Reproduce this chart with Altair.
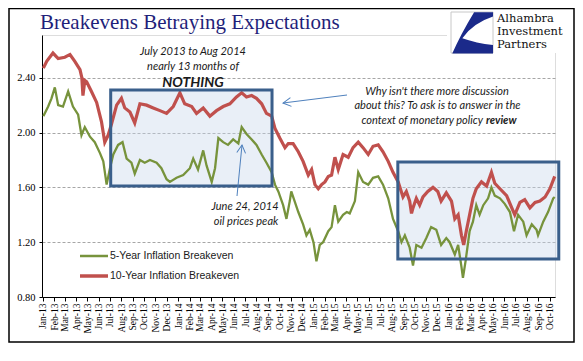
import altair as alt
import pandas as pd

# ---------------- data ----------------
red_dates = [
    "2013-01-02", "2013-01-11", "2013-01-28", "2013-02-11", "2013-03-01", "2013-03-15",
    "2013-03-28", "2013-04-11", "2013-04-16", "2013-04-19", "2013-04-24", "2013-04-29",
    "2013-05-12", "2013-05-26", "2013-06-08", "2013-06-17", "2013-06-26", "2013-07-05",
    "2013-07-19", "2013-08-01", "2013-08-10", "2013-08-24", "2013-09-06", "2013-09-20",
    "2013-10-08", "2013-10-26", "2013-11-13", "2013-12-01", "2013-12-19", "2014-01-06",
    "2014-01-19", "2014-02-07", "2014-02-20", "2014-03-10", "2014-03-28", "2014-04-15",
    "2014-05-03", "2014-05-21", "2014-06-08", "2014-06-22", "2014-07-05", "2014-07-19",
    "2014-08-01", "2014-08-15", "2014-08-28", "2014-09-11", "2014-09-20", "2014-10-03",
    "2014-10-17", "2014-10-26", "2014-11-08", "2014-11-22", "2014-12-05", "2014-12-19",
    "2014-12-28", "2015-01-06", "2015-01-15", "2015-01-24", "2015-02-02", "2015-02-11",
    "2015-02-20", "2015-03-01", "2015-03-10", "2015-03-23", "2015-04-06", "2015-04-19",
    "2015-05-03", "2015-05-16", "2015-05-30", "2015-06-12", "2015-06-26", "2015-07-09",
    "2015-07-23", "2015-08-05", "2015-08-19", "2015-09-01", "2015-09-10", "2015-09-19",
    "2015-09-24", "2015-09-28", "2015-10-07", "2015-10-16", "2015-10-25", "2015-11-07",
    "2015-11-21", "2015-12-04", "2015-12-13", "2015-12-27", "2016-01-10", "2016-01-19",
    "2016-01-28", "2016-02-06", "2016-02-12", "2016-02-19", "2016-02-28", "2016-03-08",
    "2016-03-17", "2016-03-31", "2016-04-14", "2016-04-27", "2016-05-06", "2016-05-20",
    "2016-06-07", "2016-06-21", "2016-06-29", "2016-07-13", "2016-07-26", "2016-08-09",
    "2016-08-23", "2016-09-05", "2016-09-19", "2016-10-02", "2016-10-15",
]
red_vals = [
    2.47, 2.52, 2.58, 2.54, 2.55, 2.57,
    2.52, 2.46, 2.40, 2.27, 2.38, 2.37,
    2.30, 2.22, 2.08, 1.93, 1.98, 2.06,
    2.20, 2.25, 2.18, 2.15, 2.07, 2.21,
    2.20, 2.18, 2.16, 2.14, 2.19, 2.29,
    2.21, 2.19, 2.14, 2.18, 2.12, 2.16,
    2.19, 2.21, 2.26, 2.29, 2.26, 2.27,
    2.25, 2.21, 2.14, 2.12, 2.03, 1.96,
    1.89, 1.92, 1.92, 1.86, 1.79, 1.69,
    1.73, 1.62, 1.59, 1.62, 1.64, 1.68,
    1.69, 1.82, 1.73, 1.84, 1.82, 1.89,
    1.93, 1.89, 1.84, 1.90, 1.91, 1.86,
    1.79, 1.71, 1.64, 1.53, 1.57, 1.50,
    1.41, 1.45, 1.52, 1.47, 1.53, 1.57,
    1.60, 1.57, 1.50, 1.56, 1.50, 1.37,
    1.40, 1.25, 1.18, 1.28, 1.40, 1.52,
    1.59, 1.64, 1.61, 1.71, 1.63, 1.59,
    1.54, 1.45, 1.40, 1.49, 1.51, 1.45,
    1.49, 1.50, 1.53, 1.59, 1.68,
]

green_dates = [
    "2013-01-02", "2013-01-15", "2013-01-24", "2013-02-02", "2013-02-11", "2013-02-24",
    "2013-03-10", "2013-03-23", "2013-04-06", "2013-04-15", "2013-04-24", "2013-05-08",
    "2013-05-21", "2013-06-04", "2013-06-13", "2013-06-22", "2013-07-01", "2013-07-10",
    "2013-07-23", "2013-08-04", "2013-08-15", "2013-08-28", "2013-09-06", "2013-09-20",
    "2013-10-03", "2013-10-17", "2013-11-04", "2013-11-17", "2013-12-01", "2013-12-10",
    "2013-12-28", "2014-01-15", "2014-02-02", "2014-02-11", "2014-02-24", "2014-03-10",
    "2014-03-19", "2014-04-02", "2014-04-11", "2014-04-20", "2014-05-03", "2014-05-16",
    "2014-05-30", "2014-06-13", "2014-06-22", "2014-07-05", "2014-07-19", "2014-08-01",
    "2014-08-15", "2014-08-28", "2014-09-11", "2014-09-20", "2014-09-29", "2014-10-12",
    "2014-10-21", "2014-10-30", "2014-11-03", "2014-11-12", "2014-11-22", "2014-12-05",
    "2014-12-14", "2014-12-23", "2015-01-02", "2015-01-10", "2015-01-19", "2015-01-28",
    "2015-02-11", "2015-02-20", "2015-03-01", "2015-03-10", "2015-03-23", "2015-04-02",
    "2015-04-10", "2015-04-24", "2015-05-03", "2015-05-16", "2015-05-30", "2015-06-12",
    "2015-06-26", "2015-07-09", "2015-07-23", "2015-08-05", "2015-08-19", "2015-08-28",
    "2015-09-06", "2015-09-19", "2015-09-28", "2015-10-07", "2015-10-21", "2015-11-03",
    "2015-11-16", "2015-11-30", "2015-12-13", "2015-12-27", "2016-01-05", "2016-01-19",
    "2016-01-28", "2016-02-06", "2016-02-10", "2016-02-17", "2016-02-28", "2016-03-08",
    "2016-03-17", "2016-03-26", "2016-04-05", "2016-04-18", "2016-04-27", "2016-05-06",
    "2016-05-20", "2016-06-02", "2016-06-16", "2016-06-27", "2016-07-08", "2016-07-22",
    "2016-07-31", "2016-08-14", "2016-08-27", "2016-08-31", "2016-09-14", "2016-09-27",
    "2016-10-11", "2016-10-15",
]
green_vals = [
    2.12, 2.19, 2.25, 2.33, 2.20, 2.19,
    2.30, 2.19, 2.13, 1.98, 2.04, 1.97,
    1.93, 1.85, 1.79, 1.62, 1.74, 1.84,
    1.91, 1.93, 1.81, 1.78, 1.70, 1.80,
    1.78, 1.80, 1.78, 1.74, 1.66, 1.64,
    1.67, 1.69, 1.74, 1.81, 1.73, 1.87,
    1.76, 1.64, 1.74, 1.96, 1.93, 1.91,
    1.95, 1.92, 2.04, 1.99, 1.95, 1.91,
    1.84, 1.78, 1.71, 1.62, 1.57, 1.47,
    1.37, 1.50, 1.57, 1.50, 1.42, 1.33,
    1.25, 1.29, 1.20, 1.06, 1.18, 1.20,
    1.28, 1.31, 1.47, 1.35, 1.40, 1.42,
    1.41, 1.50, 1.71, 1.64, 1.62, 1.67,
    1.68, 1.62, 1.52, 1.37, 1.28, 1.20,
    1.25, 1.16, 1.03, 1.18, 1.16, 1.23,
    1.31, 1.29, 1.18, 1.23, 1.20, 1.11,
    1.18, 1.02, 0.94, 1.06, 1.28, 1.35,
    1.47, 1.40, 1.47, 1.52, 1.60, 1.54,
    1.52, 1.48, 1.42, 1.28, 1.40, 1.35,
    1.25, 1.33, 1.29, 1.25, 1.35, 1.42,
    1.52, 1.53,
]

series_names = ["5-Year Inflation Breakeven", "10-Year Inflation Breakeven"]
y_ticks = [0.8, 1.2, 1.6, 2.0, 2.4]

# highlighted periods (data coordinates)
box_x1 = ["2013-07-03", "2015-08-18"]
box_x2 = ["2014-09-12", "2016-10-26"]
box_y1 = [1.61, 1.077]
box_y2 = [2.31, 1.785]

GREEN = "#77933c"
RED = "#c0504d"
BOXC = "#3a5f8b"
ARROW = "#4f81bd"
ANN_FONT = "Lato"
SERIF = "Liberation Serif"

red_df = pd.DataFrame({"date": pd.to_datetime(red_dates), "value": red_vals})
green_df = pd.DataFrame({"date": pd.to_datetime(green_dates), "value": green_vals})
box_df = pd.DataFrame({"date": pd.to_datetime(box_x1), "date2": pd.to_datetime(box_x2),
                       "value": box_y1, "value2": box_y2})
one = pd.DataFrame({"k": [0]})

months = [(2013 + i // 12, i % 12 + 1) for i in range(46)]
x_tick_values = [alt.DateTime(year=y, month=m, date=1) for y, m in months]

x_scale = alt.Scale(domain=[alt.DateTime(year=2012, month=12, date=29, hours=8),
                            alt.DateTime(year=2016, month=10, date=15, hours=19)])
y_scale = alt.Scale(domain=[0.8, 2.712], nice=False, zero=False)

x_axis = alt.Axis(values=x_tick_values, format="%b-%y", labelAngle=270,
                  labelFont=SERIF, labelFontSize=9.5, labelColor="black",
                  tickSize=4, tickColor="black", domainColor="black", grid=False,
                  title="", labelPadding=2, labelOverlap=False, labelBound=False,
                  labelFlush=False)
y_axis = alt.Axis(values=y_ticks, format=".2f", labelFont=SERIF, labelFontSize=10.5,
                  labelColor="black", grid=True, gridDash=[3, 2], gridColor="#a6a6a6",
                  tickSize=3, tickColor="black", domainColor="black", title="",
                  labelPadding=4)

base_x = alt.X("date:T", scale=x_scale, axis=x_axis, title="")
base_y = alt.Y("value:Q", scale=y_scale, axis=y_axis, title="")

green_line = alt.Chart(green_df).mark_line(color=GREEN, strokeWidth=2.3).encode(x=base_x, y=base_y)
red_line = alt.Chart(red_df).mark_line(color=RED, strokeWidth=3.2).encode(x=base_x, y=base_y)

box_fill = alt.Chart(box_df).mark_rect(color="#c9d8ec", opacity=0.4).encode(
    x=base_x, x2="date2:T", y=base_y, y2="value2:Q")
box_edge = alt.Chart(box_df).mark_rect(fillOpacity=0, stroke=BOXC, strokeWidth=3).encode(
    x=base_x, x2="date2:T", y=base_y, y2="value2:Q")


def txt(s, x, y, size=11, style="italic", weight="normal", align="center",
        font=ANN_FONT, color="#1a1a1a", baseline="middle"):
    return alt.Chart(one).mark_text(text=s, align=align, baseline=baseline, font=font,
                                    fontSize=size, fontStyle=style, fontWeight=weight,
                                    color=color).encode(x=alt.value(x), y=alt.value(y))


def seg(x1, y1, x2, y2, color, width):
    return alt.Chart(one).mark_rule(color=color, strokeWidth=width).encode(
        x=alt.value(x1), y=alt.value(y1), x2=alt.value(x2), y2=alt.value(y2))


def head(x, y, angle):
    return alt.Chart(one).mark_point(shape="M1,-0.55 L0,0 L1,0.55", filled=False,
                                     color=ARROW, strokeWidth=1, size=256, angle=angle,
                                     opacity=1).encode(x=alt.value(x), y=alt.value(y))


layers = [
    box_fill,
    green_line,
    red_line,
    box_edge,
    # annotations
    txt("July 2013 to Aug 2014", 151, 16.7),
    txt("nearly 13 months of", 151, 31.7),
    txt("NOTHING", 151, 47.7, size=14, weight="bold"),
    txt("Why isn't there more discussion", 395, 56.7),
    txt("about this? To ask is to answer in the", 395.5, 71),
    txt("context of monetary policy", 441, 85.7, align="right"),
    txt("review", 444, 85.7, align="left", weight="bold"),
    txt("June 24, 2014", 203, 172.3),
    txt("oil prices peak", 204, 187.3),
    seg(305, 60, 241, 68, ARROW, 1),
    head(241, 68, 353),
    seg(195, 161, 200, 110, ARROW, 1),
    head(200, 110, 96),
    # legend
    seg(38, 221, 66, 221, GREEN, 2.5),
    txt(series_names[0], 68, 221, size=10.5, style="normal", align="left",
        font="Liberation Sans"),
    seg(38, 241, 66, 241, RED, 3.5),
    txt(series_names[1], 68, 241, size=10.5, style="normal", align="left",
        font="Liberation Sans"),
    # title
    txt("Breakevens Betraying Expectations", -2, -6, size=21, style="normal",
        align="left", font=SERIF, color="#1f1f7a", baseline="alphabetic"),
    # logo
    alt.Chart(one).mark_rect(color="white").encode(
        x=alt.value(405), x2=alt.value(532), y=alt.value(-26), y2=alt.value(18)),
    alt.Chart(one).mark_rect(fill="white", stroke="#c8c8c8", strokeWidth=1).encode(
        x=alt.value(409), x2=alt.value(451), y=alt.value(-23), y2=alt.value(18)),
    alt.Chart(one).mark_point(
        shape="M0.1,-0.97 L1,-0.97 L1,-0.76 Q0.05,-0.45 -0.46,0.27 Q0.2,0.5 1,0.6 "
              "L1,1 L-0.94,1 Q-0.55,0.1 0.1,-0.97 Z",
        filled=True, color="#1b2a8a", size=1764, opacity=1, strokeWidth=0).encode(
        x=alt.value(430), y=alt.value(-2.5)),
    txt("Alhambra", 455, -13, size=11.5, style="normal", align="left", font="DejaVu Serif",
        color="#111111", baseline="alphabetic"),
    txt("Investment", 455, 0, size=11.5, style="normal", align="left", font="DejaVu Serif",
        color="#111111", baseline="alphabetic"),
    txt("Partners", 455, 13, size=11.5, style="normal", align="left", font="DejaVu Serif",
        color="#111111", baseline="alphabetic"),
    # outer frame
    alt.Chart(one).mark_rect(fillOpacity=0, stroke="black", strokeWidth=1.5).encode(
        x=alt.value(-33), x2=alt.value(532), y=alt.value(-26.5), y2=alt.value(307)),
]

chart = alt.layer(*layers).properties(
    width=513, height=262,
    padding={"left": 34, "top": 27, "right": 20, "bottom": 56},
    autosize=alt.AutoSizeParams(type="none"),
).configure_view(stroke="#a6a6a6", strokeWidth=1).configure(background="white")

chart.save("out.html", embed_options={"renderer": "svg", "actions": False})
